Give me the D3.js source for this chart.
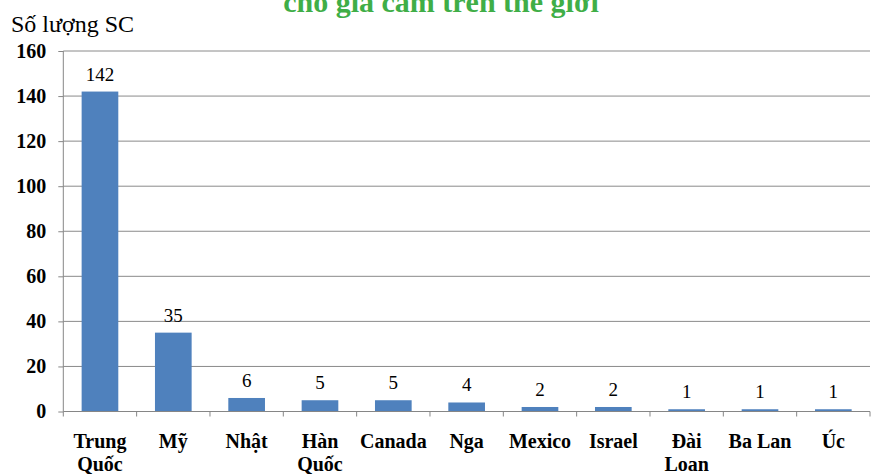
<!DOCTYPE html>
<html lang="vi">
<head>
<meta charset="UTF-8">
<title>Số lượng SC</title>
<script src="https://d3js.org/d3.v7.min.js"></script>
<style>
  body { margin: 0; background: #fff; }
</style>
</head>
<body>
<svg width="878" height="474"></svg>
<script>
// data
const categories = [["Trung", "Quốc"], ["Mỹ"], ["Nhật"], ["Hàn", "Quốc"], ["Canada"], ["Nga"],
                    ["Mexico"], ["Israel"], ["Đài", "Loan"], ["Ba Lan"], ["Úc"]];
const values = [142, 35, 6, 5, 5, 4, 2, 2, 1, 1, 1];
const yTicks = [0, 20, 40, 60, 80, 100, 120, 140, 160];

const svg = d3.select("svg");
const margin = { left: 63.3, right: 8, top: 51, bottom: 62.5 };
const width = 878, height = 474;
const serif = "'Times New Roman', Tinos, 'Nimbus Roman', 'DejaVu Serif', serif";
const serifBold = "'Liberation Serif', serif";

const x = d3.scaleBand()
    .domain(d3.range(categories.length))
    .range([margin.left, width - margin.right])
    .paddingInner(0.5)
    .paddingOuter(0.25);

const y = d3.scaleLinear()
    .domain([0, 160])
    .range([height - margin.bottom, margin.top]);

// gridlines
svg.append("g")
    .selectAll("line")
    .data(yTicks.filter(d => d > 0))
    .enter().append("line")
    .attr("x1", margin.left)
    .attr("x2", width - margin.right)
    .attr("y1", d => y(d))
    .attr("y2", d => y(d))
    .attr("stroke", "#8a8a8a")
    .attr("stroke-width", 1);

// bars
svg.append("g")
    .selectAll("rect")
    .data(values)
    .enter().append("rect")
    .attr("x", (d, i) => x(i))
    .attr("width", x.bandwidth())
    .attr("y", d => y(d))
    .attr("height", d => y(0) - y(d))
    .attr("fill", "#4f81bd");

// value labels
svg.append("g")
    .selectAll("text")
    .data(values)
    .enter().append("text")
    .attr("x", (d, i) => x(i) + x.bandwidth() / 2)
    .attr("y", d => y(d) - 11)
    .attr("text-anchor", "middle")
    .style("font-family", serif)
    .attr("font-size", 19)
    .attr("fill", "#000")
    .text(d => d);

// y axis
const yAxis = svg.append("g")
    .attr("transform", `translate(${margin.left},0)`)
    .call(d3.axisLeft(y).tickValues(yTicks).tickSize(5).tickPadding(12));
yAxis.select(".domain").attr("stroke", "#868686").attr("d", `M0,${y(0)}V${y(160)}`);
yAxis.selectAll(".tick line").attr("stroke", "#868686");
yAxis.selectAll(".tick text")
    .style("font-family", serifBold)
    .attr("font-size", 20)
    .attr("font-weight", "bold")
    .attr("fill", "#000");

// x axis: ticks at band boundaries
const step = x.step();
const bounds = d3.range(categories.length + 1).map(i => margin.left + i * step);
const xAxis = svg.append("g");
xAxis.append("line")
    .attr("x1", margin.left).attr("x2", width - margin.right)
    .attr("y1", y(0)).attr("y2", y(0))
    .attr("stroke", "#868686");
xAxis.selectAll("line.tk")
    .data(bounds)
    .enter().append("line")
    .attr("class", "tk")
    .attr("x1", d => d).attr("x2", d => d)
    .attr("y1", y(0)).attr("y2", y(0) + 5)
    .attr("stroke", "#868686");

const labels = svg.append("g")
    .selectAll("text")
    .data(categories)
    .enter().append("text")
    .attr("x", (d, i) => x(i) + x.bandwidth() / 2)
    .attr("y", 447.5)
    .attr("text-anchor", "middle")
    .style("font-family", serifBold)
    .attr("font-size", 20)
    .attr("font-weight", "bold")
    .attr("fill", "#000");
labels.selectAll("tspan")
    .data(d => d)
    .enter().append("tspan")
    .attr("x", function () { return d3.select(this.parentNode).attr("x"); })
    .attr("dy", (d, i) => i === 0 ? 0 : 23.5)
    .text(d => d);

// axis title
svg.append("text")
    .attr("x", 11)
    .attr("y", 32)
    .style("font-family", serif)
    .attr("font-size", 24)
    .attr("fill", "#000")
    .text("Số lượng SC");

// chart title (cut off at the top in the original)
svg.append("text")
    .attr("x", 441)
    .attr("y", 12)
    .attr("text-anchor", "middle")
    .style("font-family", serifBold)
    .attr("font-size", 30)
    .attr("font-weight", "bold")
    .attr("fill", "#3fae47")
    .text("cho gia cầm trên thế giới");
</script>
</body>
</html>
